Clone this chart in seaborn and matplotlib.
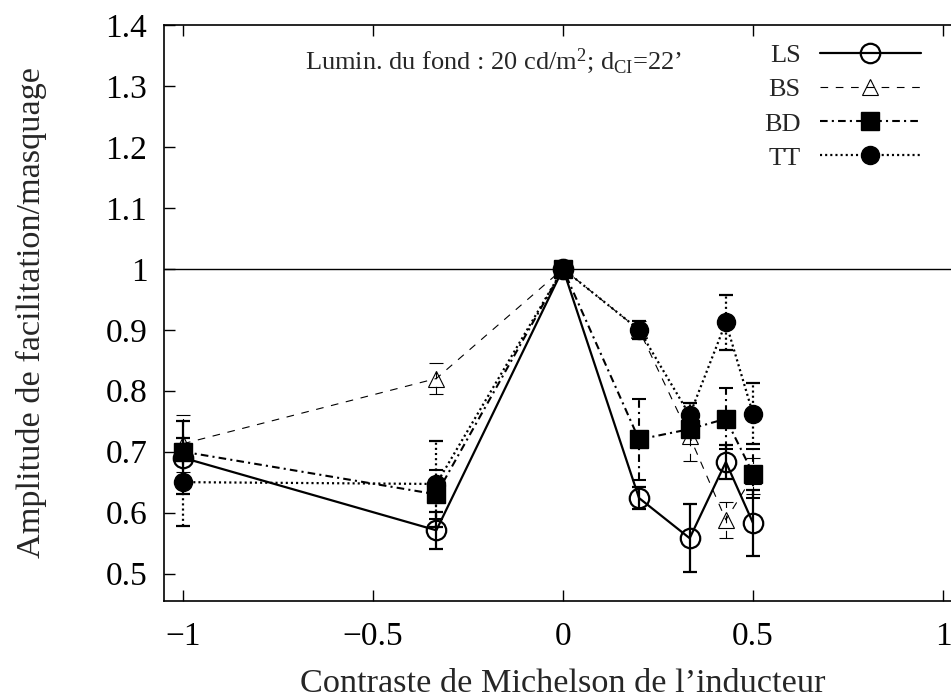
import matplotlib
matplotlib.use("Agg")
import matplotlib.pyplot as plt
import seaborn as sns
import numpy as np
import pandas as pd

# ---- data ----
contrast = [-1.0, -1/3, 0.0, 0.2, 1/3, 3/7, 0.5]
series_names = ["LS", "BS", "BD", "TT"]
ls_vals = [0.690, 0.571, 1.0, 0.624, 0.558, 0.683, 0.583]
ls_err = [0.060, 0.030, 0.0, 0.018, 0.056, 0.028, 0.054]
bs_vals = [0.713, 0.820, 1.0, 0.900, 0.725, 0.588, 0.660]
bs_err = [0.047, 0.025, 0.0, 0.015, 0.040, 0.030, 0.030]
bd_vals = [0.700, 0.630, 1.0, 0.720, 0.737, 0.754, 0.664]
bd_err = [0.012, 0.040, 0.0, 0.067, 0.012, 0.050, 0.040]
tt_vals = [0.650, 0.647, 1.0, 0.900, 0.760, 0.912, 0.762]
tt_err = [0.072, 0.070, 0.0, 0.015, 0.020, 0.045, 0.050]
xticks = [-1, -0.5, 0, 0.5, 1]
xticklabels = ["\u22121", "\u22120.5", "0", "0.5", "1"]
yticks = [0.5, 0.6, 0.7, 0.8, 0.9, 1.0, 1.1, 1.2, 1.3, 1.4]
yticklabels = ["0.5", "0.6", "0.7", "0.8", "0.9", "1", "1.1", "1.2", "1.3", "1.4"]

sns.set_style("ticks")
plt.rcParams["font.family"] = ["Liberation Serif", "DejaVu Serif"]
plt.rcParams["mathtext.fontset"] = "custom"
plt.rcParams["mathtext.rm"] = "Liberation Serif"
plt.rcParams["mathtext.it"] = "Liberation Serif:italic"
plt.rcParams["lines.scale_dashes"] = False

fig = plt.figure(figsize=(9.51, 7.0), dpi=100)
ax = fig.add_axes([164/951, 99/700, 798/951, 576/700])

styles = {
    "LS": dict(ls="-", lw=1.6, marker="o", ms=14, mfc="none", mew=1.6),
    "BS": dict(ls=(0, (5.5, 5.5)), lw=0.8, marker="^", ms=12, mfc="none", mew=0.8),
    "BD": dict(ls=(0, (5.5, 3, 1.5, 3)), lw=1.5, marker="s", ms=13, mfc="black", mew=1.0),
    "TT": dict(ls=(0, (1.5, 2.2)), lw=1.6, marker="o", ms=13, mfc="black", mew=1.0),
}
vals = {"LS": ls_vals, "BS": bs_vals, "BD": bd_vals, "TT": tt_vals}
errs = {"LS": ls_err, "BS": bs_err, "BD": bd_err, "TT": tt_err}

ax.axhline(1.0, color="black", lw=1.0, zorder=1)

handles = []
for i, name in enumerate(series_names):
    st = styles[name]
    df = pd.DataFrame({"x": contrast, "y": vals[name]})
    eb = ax.errorbar(contrast, vals[name], yerr=errs[name], fmt="none",
                     ecolor="black", elinewidth=st["lw"], capsize=5,
                     capthick=st["lw"], zorder=2 + i)
    eb[2][0].set_linestyle(st["ls"])
    sns.lineplot(data=df, x="x", y="y", ax=ax, color="black", sort=False,
                 estimator=None, errorbar=None,
                 linestyle=st["ls"], lw=st["lw"], marker=st["marker"],
                 markersize=st["ms"], markerfacecolor=st["mfc"],
                 markeredgecolor="black", markeredgewidth=st["mew"],
                 zorder=3 + i, label=name)
    handles.append(ax.lines[-1])

ax.set_xlim(-1.05, 1.05)
ax.set_ylim(0.455, 1.4)
ax.set_xticks(xticks)
ax.set_xticklabels(xticklabels)
ax.set_yticks(yticks)
ax.set_yticklabels(yticklabels)
ax.tick_params(direction="in", length=8, width=1, labelsize=24,
               top=True, right=True, colors="black")
ax.tick_params(axis="y", pad=12)
ax.tick_params(axis="x", pad=15)
for sp in ax.spines.values():
    sp.set_linewidth(1.2)
    sp.set_color("black")

ax.set_xlabel("Contraste de Michelson de l\u2019inducteur", fontsize=24.7, labelpad=12)
ax.set_ylabel("Amplitude de facilitation/masquage", fontsize=24.7, labelpad=42)

ax.text((305-164)/798, (601-69)/576,
        "Lumin. du fond : 20 cd/m$^{\\mathrm{2}}$; d$_{\\mathrm{CI}}$=22\u2019",
        transform=ax.transAxes, fontsize=19, va="baseline", ha="left")

leg = ax.legend(handles=handles, labels=series_names, loc="upper left",
                bbox_to_anchor=((764-164)/798, (601-44)/576),
                frameon=False, markerfirst=False, fontsize=19,
                handlelength=3.8, handletextpad=0.75, labelspacing=0.4,
                borderpad=0, borderaxespad=0, numpoints=1)

fig.savefig("out.png", dpi=100)
